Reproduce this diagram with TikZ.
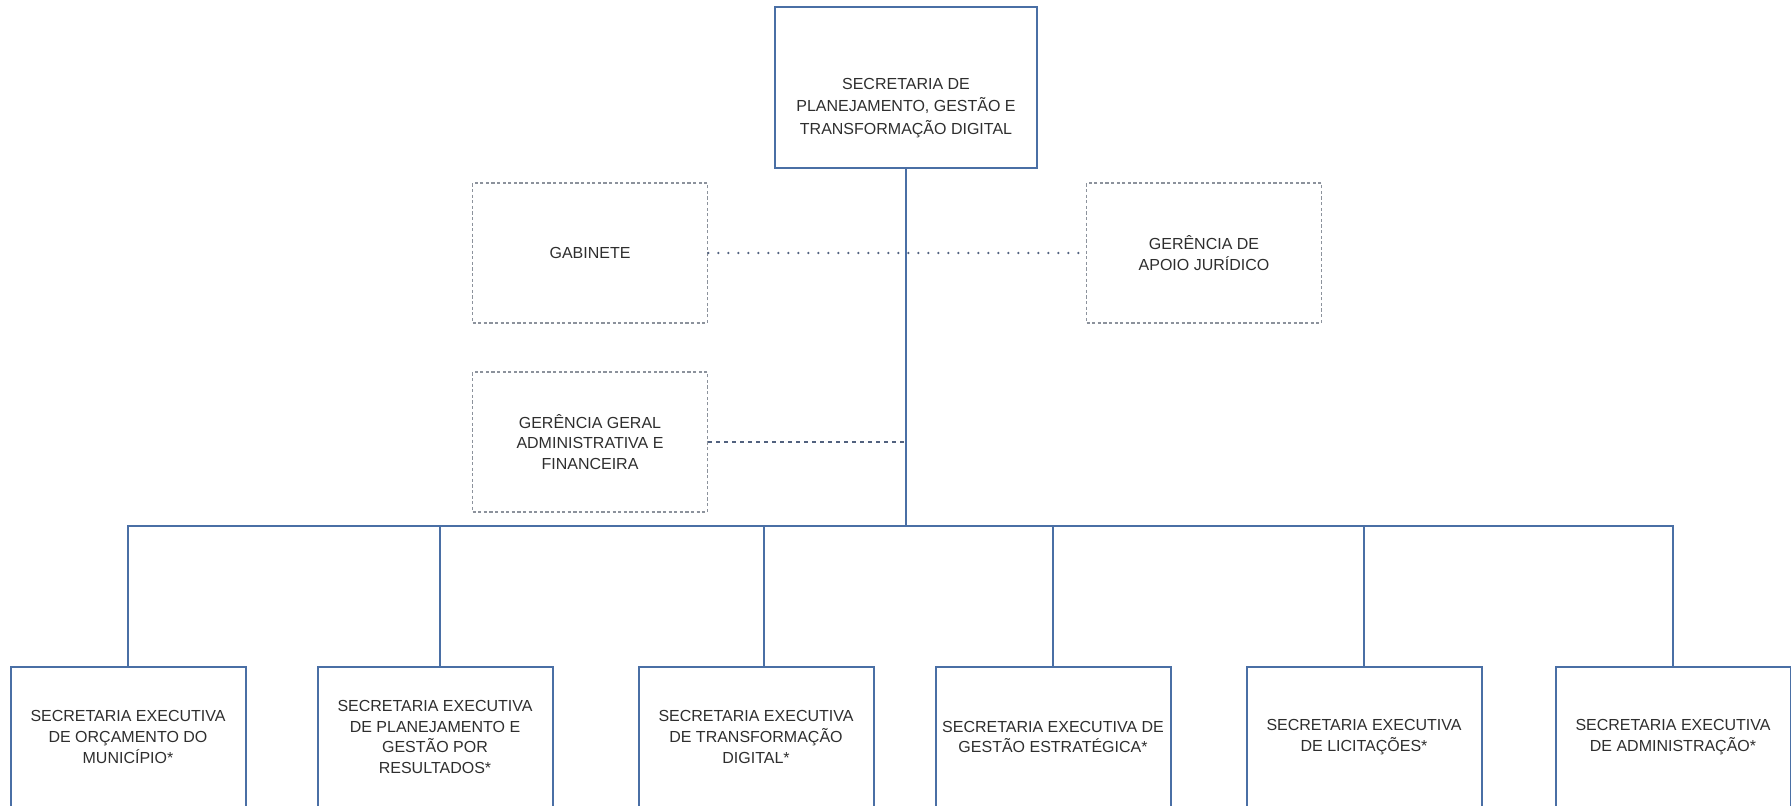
\documentclass[tikz,border=0pt]{standalone}
\usepackage{fontspec}
\setmainfont{Liberation Sans}
\definecolor{orgblue}{HTML}{4A6FA5}
\definecolor{dotgray}{HTML}{8C929C}
\definecolor{dotblue}{HTML}{52627F}
\definecolor{txtgray}{HTML}{2E2E2E}

\begin{document}
\begin{tikzpicture}[x=0.5pt,y=-0.5pt,
  every node/.style={align=center,inner sep=0pt,text=txtgray,font=\fontsize{8pt}{10.3pt}\selectfont},
  unit/.style={draw=orgblue,line width=1pt,minimum width=117.5pt,minimum height=70pt},
  staff/.style={draw=dotgray,line width=0.9pt,dash pattern=on 1.6pt off 1.2pt,minimum width=117.5pt,minimum height=70pt},
  link/.style={draw=orgblue,line width=0.75pt},
  dotlink/.style={draw=dotblue,line width=1.3pt,line cap=round,dash pattern=on 0pt off 5pt},
  dashlink/.style={draw=dotblue,line width=0.8pt,dash pattern=on 1.6pt off 2.4pt}]

\useasboundingbox (0,0) rectangle (1791,805);
\clip (0,0) rectangle (1791,805);

% top box, text sits low in the box
\node[unit,minimum width=131pt,minimum height=80.5pt] (sec) at (906,87.5) {};
\node[font=\fontsize{8pt}{11.4pt}\selectfont] (sectxt) at (906,108) {SECRETARIA DE\\PLANEJAMENTO, GESTÃO E\\TRANSFORMAÇÃO DIGITAL};

\node[staff] (gab) at (590,253) {GABINETE};

\node[staff] (jur) at (1204,253) {GERÊNCIA DE\\APOIO JURÍDICO};

\node[staff] (adm) at (590,442) {GERÊNCIA GERAL\\ADMINISTRATIVA E\\FINANCEIRA};

\node[unit] (s1) at (128,737) {SECRETARIA EXECUTIVA\\DE ORÇAMENTO DO\\MUNICÍPIO*};

\node[unit] (s2) at (435,737) {SECRETARIA EXECUTIVA\\DE PLANEJAMENTO E\\GESTÃO POR\\RESULTADOS*};

\node[unit] (s3) at (756,737) {SECRETARIA EXECUTIVA\\DE TRANSFORMAÇÃO\\DIGITAL*};

\node[unit] (s4) at (1053,737) {SECRETARIA EXECUTIVA DE\\GESTÃO ESTRATÉGICA*};

\node[unit] (s5) at (1364,737) {SECRETARIA EXECUTIVA\\DE LICITAÇÕES*};

\node[unit] (s6) at (1673,737) {SECRETARIA EXECUTIVA\\DE ADMINISTRAÇÃO*};

\coordinate (bar) at (906,526);
\coordinate (k) at (906,442);

\draw[link] (sec) -- (bar);
\draw[link] (s1.north) |- (bar) -| (s6.north);
\foreach \s/\d in {s2/5,s3/8,s4/0,s5/0}
  \draw[link] ([xshift=\d*0.5pt]\s.north) -- ([xshift=\d*0.5pt]\s.north |- bar);

\draw[dotlink] (gab.east) -- (jur.west);
\draw[dashlink] (adm.east) -- (k);
\end{tikzpicture}
\end{document}
